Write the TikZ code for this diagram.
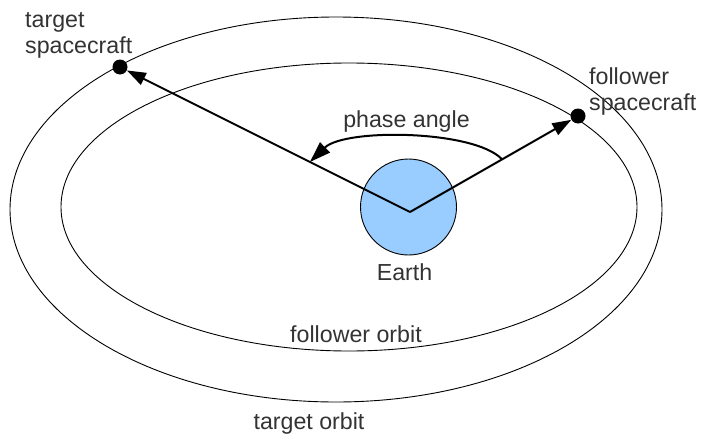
\documentclass[tikz,border=0pt]{standalone}
\usepackage{fontspec}
\setmainfont{Liberation Sans}
\usetikzlibrary{arrows.meta,calc}
\definecolor{earthblue}{HTML}{99CCFF}
\definecolor{txtgrey}{HTML}{333333}
\tikzset{
  lbl/.style={text=txtgrey, inner sep=0pt, font=\fontsize{23.2}{26}\selectfont},
  orbitline/.style={draw=black, line width=0.9pt},
  radial/.style={draw=black, line width=2pt, -{Triangle[length=19pt,width=13pt]}},
  craft/.style={circle, fill=black, inner sep=0pt, minimum size=15pt},
}
\begin{document}
\begin{tikzpicture}[x=1pt,y=-1pt]
\useasboundingbox (0,0) rectangle (702,434);
% orbits
\draw[orbitline] (336,209.5) ellipse [x radius=326pt, y radius=192.5pt];
\draw[orbitline] (349,207) ellipse [x radius=288pt, y radius=144pt];
% Earth
\node[circle, draw=black, line width=0.9pt, fill=earthblue, minimum size=96pt, inner sep=0pt] (earth) at (408.5,207) {};
\coordinate (c) at (410,212);
% spacecraft
\node[craft] (tdot) at (120,67) {};
\node[craft] (fdot) at (578,116) {};
% radial arrows
\draw[radial] (c) -- (tdot);
\draw[radial] (c) -- (fdot);
% phase angle arc
\coordinate (a1) at ($(c)!0.548!(fdot)$);
\coordinate (a2) at ($(c)!0.345!(tdot)$);
\draw[draw=black, line width=2pt, -{Triangle[length=21pt,width=14pt]}] (a1) .. controls (475,130) and (345,128) .. (a2);
% labels
\node[lbl, anchor=base west, align=left] (tlab) at (25,53) {target\\spacecraft};
\node[lbl, anchor=base west, align=left] (flab) at (589,110) {follower\\spacecraft};
\node[lbl, anchor=base] (plab) at (406.5,127) {phase angle};
\node[lbl, anchor=base] (elab) at (404.5,280) {Earth};
\node[lbl, anchor=base] (folab) at (356,342) {follower orbit};
\node[lbl, anchor=base] (tolab) at (309,429) {target orbit};
\end{tikzpicture}
\end{document}
